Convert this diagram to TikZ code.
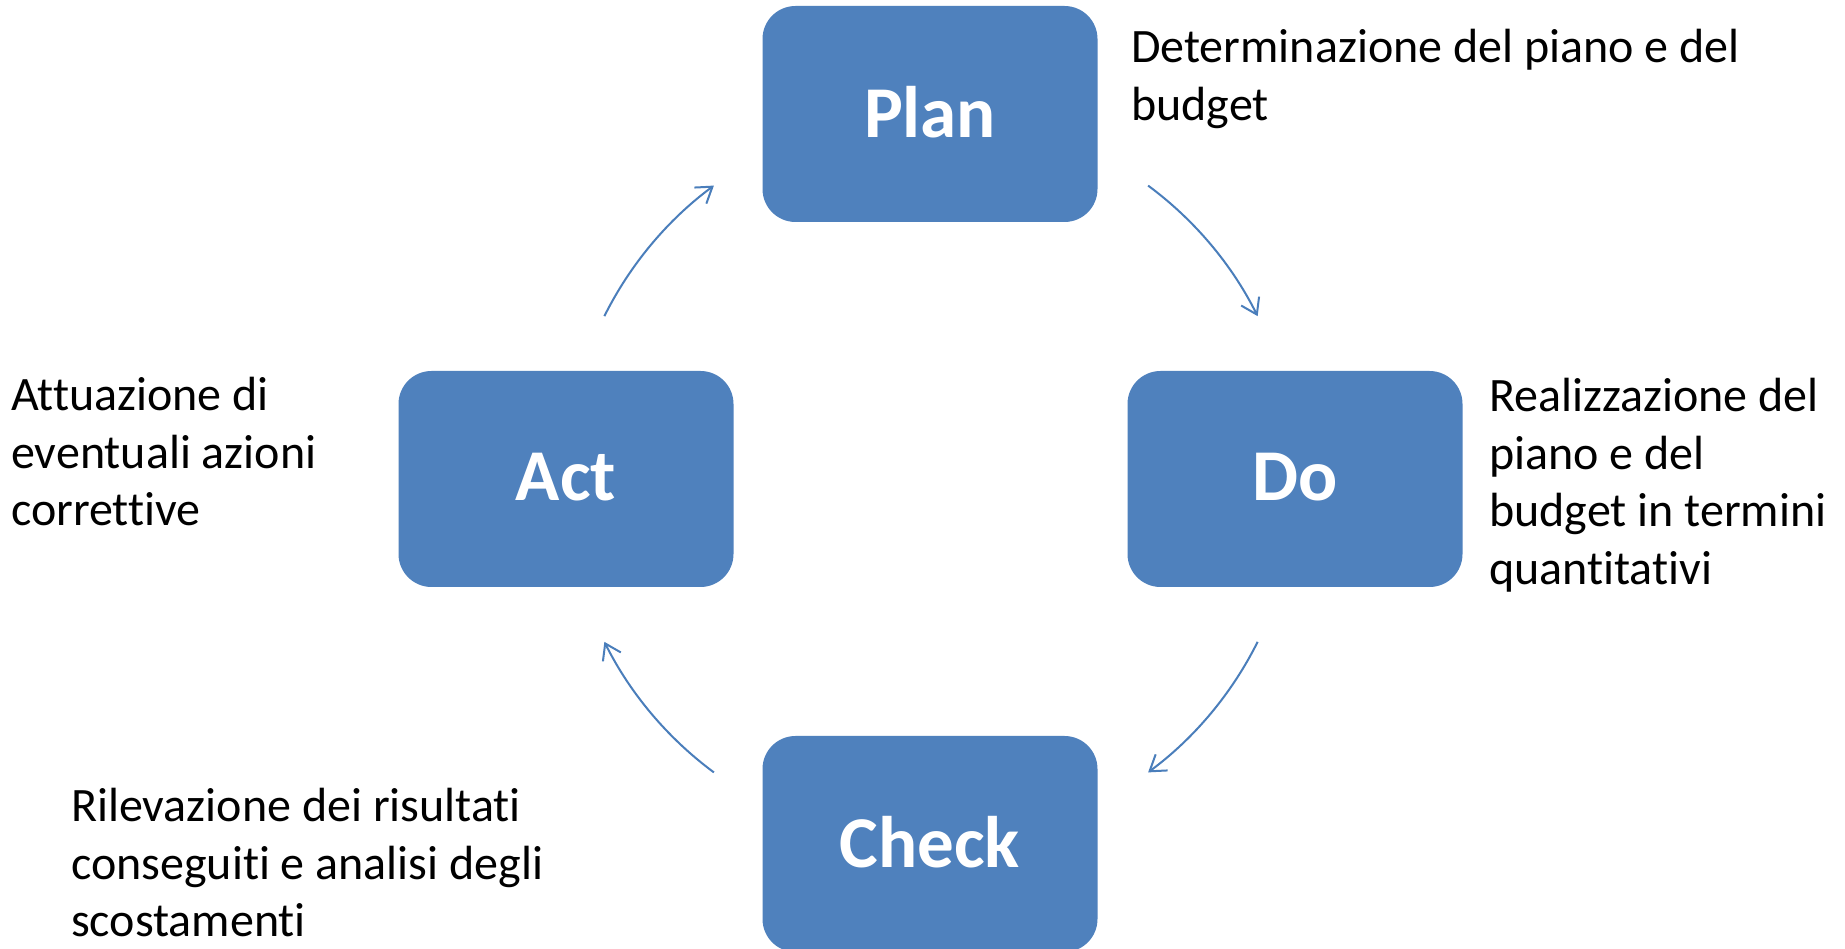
\documentclass[tikz,border=0pt]{standalone}
\usepackage{fontspec}
\setmainfont{Carlito}[Ligatures=NoCommon]
\usetikzlibrary{arrows.meta}
\definecolor{boxblue}{HTML}{4F81BD}
\definecolor{arrowblue}{HTML}{4A7EBB}
\newcommand\desctext{\fontsize{48}{57.5}\selectfont}
\newcommand\boxtext{\fontsize{73}{80}\selectfont\bfseries}
\newcommand\boxlabel[1]{\raisebox{4pt}{#1}}
\tikzset{
  phase/.style={fill=boxblue, draw=none, rounded corners=33pt,
    minimum width=335pt, minimum height=216pt, inner sep=0pt,
    text=white, font=\boxtext},
  desc/.style={anchor=base west, inner sep=0pt, font=\desctext, text=black},
  cyclearrow/.style={draw=arrowblue, line width=2pt,
    -{Straight Barb[length=15pt,width=20pt,line width=2pt]}}
}
\begin{document}
\begin{tikzpicture}[x=1pt,y=1pt]
\useasboundingbox (0,0) rectangle (1845,948);
\fill[white] (0,0) rectangle (1845,948);
\coordinate (C) at (931,469);
\node[phase] (plan) at (930,834) {\boxlabel{Plan}};
\node[phase] (do) at (1295,469) {\boxlabel{Do}};
\node[phase] (act) at (566,469) {\boxlabel{Act}};
\node[phase] (check) at (930,104) {\boxlabel{Check}};

\node[desc] (tplan) at (1131,885) {\vtop{\hbox{Determinazione del piano e del}\hbox{budget}}};
\node[desc] (tdo) at (1489,536) {\vtop{\hbox{Realizzazione del}\hbox{piano e del}\hbox{budget in termini}\hbox{quantitativi}}};
\node[desc] (tact) at (11,537) {\vtop{\hbox{Attuazione di}\hbox{eventuali azioni}\hbox{correttive}}};
\node[desc] (tcheck) at (71,126) {\vtop{\hbox{Rilevazione dei risultati}\hbox{conseguiti e analisi degli}\hbox{scostamenti}}};

\draw[cyclearrow] (C) ++(53.5:365) arc[start angle=53.5, end angle=26.5, radius=365];
\draw[cyclearrow] (C) ++(-26.5:365) arc[start angle=-26.5, end angle=-53.5, radius=365];
\draw[cyclearrow] (C) ++(-126.5:365) arc[start angle=-126.5, end angle=-153.5, radius=365];
\draw[cyclearrow] (C) ++(153.5:365) arc[start angle=153.5, end angle=126.5, radius=365];
\end{tikzpicture}
\end{document}
